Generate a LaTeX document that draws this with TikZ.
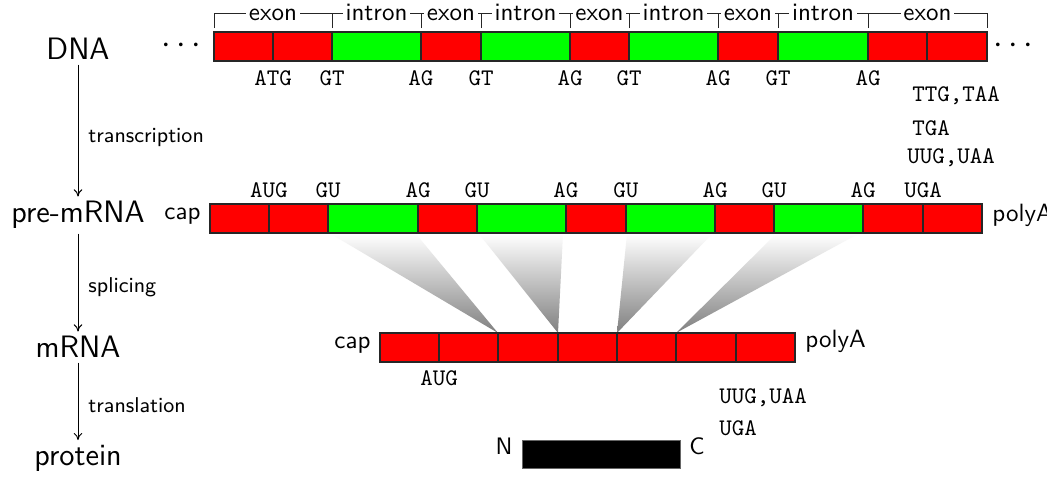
\documentclass[tikz,border=0pt]{standalone}
\usepackage{fontspec}
\usetikzlibrary{arrows.meta}
\begin{document}
\begin{tikzpicture}[x=0.42pt,y=-0.42pt,
  lab/.style={font=\sffamily\fontsize{13}{15}\selectfont, inner sep=1.8pt},
  proc/.style={font=\sffamily\fontsize{9}{11}\selectfont, anchor=base west, inner sep=0pt},
  brk/.style={font=\sffamily\fontsize{10.5}{12}\selectfont, anchor=base, fill=white, inner sep=1.2pt},
  brkline/.style={line width=0.4pt, black!85},
  cod/.style={font=\ttfamily\fontsize{10}{12}\selectfont, anchor=base, inner sep=0pt},
  endlab/.style={font=\sffamily\fontsize{10.5}{12}\selectfont, inner sep=0pt},
  seg/.style={draw=black!85, line width=0.55pt},
  arr/.style={-{To[length=3pt,width=3.6pt]}, line width=0.4pt},
  splice/.style={top color=white, bottom color=black!50, draw=none}
]
\fill[white] (0,0) rectangle (1047,490);
\useasboundingbox (0,0) rectangle (1047,490);

% ---- left column labels
\node[lab] (dna) at (78,49) {DNA};
\node[lab] (pre) at (78,215) {pre-mRNA};
\node[lab] (mrna) at (78,347) {mRNA};
\node[lab] (prot) at (78,458) {protein};
\draw[arr] (dna) -- (pre);
\draw[arr] (pre) -- (mrna);
\draw[arr] (mrna) -- (prot);
\node[proc] (tr) at (88,142) {transcription};
\node[proc] (sp) at (88,292) {splicing};
\node[proc] (tl) at (88,413) {translation};

% ---- DNA bar
\foreach \a/\b/\c [count=\i] in {214/273/red,273/332/red,332/421/green,421/481/red,481/570/green,570/629/red,629/718/green,718/778/red,778/868/green,868/927/red,927/987/red}
  {\path[seg, fill=\c] (\a,32) rectangle (\b,61);}
\node (ldots) at (181,46) {\fontsize{14}{16}\selectfont$\cdots$};
\node (rdots) at (1013,46) {\fontsize{14}{16}\selectfont$\cdots$};

% brackets
\foreach \a/\b/\t [count=\i] in {214/332/exon,332/421/intron,421/481/exon,481/570/intron,570/629/exon,629/718/intron,718/778/exon,778/868/intron,868/987/exon}
  {\draw[brkline] (\a,28) -- (\a,13) -- (\b,13) -- (\b,28);
   \node[brk] (br\i) at ({(\a+\b)/2},20.5) {\t};}

% DNA codons
\foreach \x/\t [count=\i] in {273/ATG,332/GT,421/AG,481/GT,570/AG,629/GT,718/AG,778/GT,868/AG}
  {\node[cod] (dc\i) at (\x,85) {\t};}
\node[cod, anchor=base west] (stopa) at (912,102) {TTG,TAA};
\node[cod, anchor=base west] (stopb) at (912,135) {TGA};
\node[cod, anchor=base west] (stopc) at (907,163) {UUG,UAA};

% ---- pre-mRNA bar
\foreach \a/\b/\c [count=\i] in {210/269/red,269/328/red,328/418/green,418/477/red,477/566/green,566/626/red,626/715/green,715/774/red,774/863/green,863/923/red,923/982/red}
  {\path[seg, fill=\c] (\a,204) rectangle (\b,233);}
\node[endlab, anchor=base east] (capa) at (201,219) {cap};
\node[endlab, anchor=base west] (polya) at (992,222) {polyA};
\foreach \x/\t [count=\i] in {269/AUG,328/GU,418/AG,477/GU,566/AG,626/GU,715/AG,774/GU,863/AG,923/UGA}
  {\node[cod] (pc\i) at (\x,197) {\t};}

% ---- splicing shades
\coordinate (i1l) at (331,234); \coordinate (i1r) at (416,234);
\coordinate (i2l) at (479,234); \coordinate (i2r) at (563,234);
\coordinate (i3l) at (627,234); \coordinate (i3r) at (712,234);
\coordinate (i4l) at (776,234); \coordinate (i4r) at (858,234);
\coordinate (j1) at (498,333); \coordinate (j2) at (558,333);
\coordinate (j3) at (617,333); \coordinate (j4) at (676,333);
\foreach \k in {1,2,3,4}
  {\shade[splice] (i\k l) -- (i\k r) -- (j\k) -- cycle;}

% ---- mRNA bar
\foreach \a/\b [count=\i] in {380/439,439/498,498/558,558/617,617/676,676/736,736/795}
  {\path[seg, fill=red] (\a,333) rectangle (\b,362);}
\node[endlab, anchor=base east] (capb) at (371,348) {cap};
\node[endlab, anchor=base west] (polyb) at (805,347) {polyA};
\node[cod] (aug) at (439,385) {AUG};
\node[cod, anchor=base west] (stopd) at (719,403) {UUG,UAA};
\node[cod, anchor=base west] (stope) at (719,435) {UGA};

% ---- protein
\path[draw=black!60, line width=0.4pt, fill=black] (522,440) rectangle (680,468);
\node[endlab, font=\sffamily\fontsize{10}{12}\selectfont, anchor=base] (nterm) at (504,454) {N};
\node[endlab, font=\sffamily\fontsize{10}{12}\selectfont, anchor=base] (cterm) at (697,454) {C};
\end{tikzpicture}
\end{document}
